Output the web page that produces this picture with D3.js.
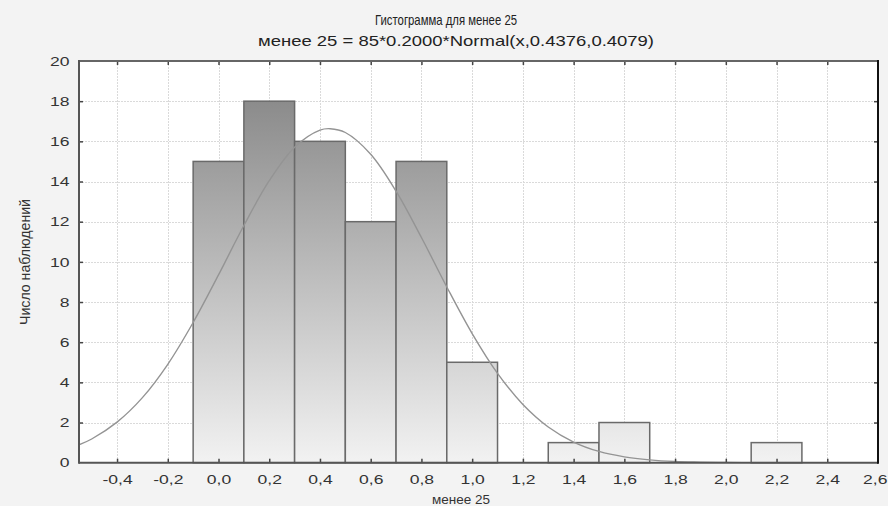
<!DOCTYPE html>
<html>
<head>
<meta charset="utf-8">
<script src="https://cdn.jsdelivr.net/npm/d3@7"></script>
<style>
  html, body { margin: 0; padding: 0; background: #f3f3f3; }
  svg { display: block; font-family: "Liberation Sans", Arial, sans-serif; }
</style>
</head>
<body>
<svg id="chart" width="888" height="506"></svg>
<script>
// ---- data ----
const titleLines = ["Гистограмма для менее 25", "менее 25 = 85*0.2000*Normal(x,0.4376,0.4079)"];
const xLabel = "менее 25";
const yLabel = "Число наблюдений";
const binLo  = [-0.1, 0.1, 0.3, 0.5, 0.7, 0.9, 1.1, 1.3, 1.5, 1.7, 1.9, 2.1];
const binHi  = [ 0.1, 0.3, 0.5, 0.7, 0.9, 1.1, 1.3, 1.5, 1.7, 1.9, 2.1, 2.3];
const counts = [15, 18, 16, 12, 15, 5, 0, 1, 2, 0, 0, 1];
const curveX = [-0.55, -0.5, -0.4, -0.3, -0.2, -0.1, 0.0, 0.1, 0.2, 0.3, 0.4, 0.44, 0.5, 0.6, 0.7, 0.8, 0.9, 1.0, 1.1, 1.2, 1.3, 1.4, 1.5, 1.6, 1.7, 1.8, 1.9, 2.0, 2.1, 2.2, 2.4, 2.6];
const curveY = [0.89, 1.18, 2.02, 3.24, 4.90, 6.98, 9.35, 11.81, 14.04, 15.71, 16.56, 16.63, 16.44, 15.36, 13.52, 11.21, 8.75, 6.43, 4.45, 2.90, 1.78, 1.03, 0.56, 0.29, 0.14, 0.06, 0.03, 0.01, 0.004, 0.001, 0, 0];
const xTicks = [-0.4, -0.2, 0.0, 0.2, 0.4, 0.6, 0.8, 1.0, 1.2, 1.4, 1.6, 1.8, 2.0, 2.2, 2.4, 2.6];
const yTicks = [0, 2, 4, 6, 8, 10, 12, 14, 16, 18, 20];
const xDomain = [-0.55, 2.6];
const yDomain = [0, 20];

// ---- layout ----
const svg = d3.select("#chart");
const L = 79, R = 878, T = 61, B = 462.7;
const x = d3.scaleLinear().domain(xDomain).range([L, R]);
const y = d3.scaleLinear().domain(yDomain).range([B, T]);
const fmtX = d => (d < 0 ? "-" : "") + Math.abs(d).toFixed(1).replace(".", ",");

// background of plot
svg.append("rect").attr("x", L).attr("y", T).attr("width", R - L).attr("height", B - T).attr("fill", "#ffffff");

// gradient
const defs = svg.append("defs");
const grad = defs.append("linearGradient").attr("id", "barGrad")
  .attr("gradientUnits", "userSpaceOnUse")
  .attr("x1", 0).attr("x2", 0).attr("y1", y(20)).attr("y2", y(0));
grad.append("stop").attr("offset", "0%").attr("stop-color", "#808080");
grad.append("stop").attr("offset", "100%").attr("stop-color", "#f2f2f2");
defs.append("clipPath").attr("id", "plotClip").append("rect")
  .attr("x", L).attr("y", T).attr("width", R - L).attr("height", B - T);

// grid
const grid = svg.append("g").attr("stroke", "#dadada").attr("stroke-width", 1).attr("stroke-dasharray", "2,1");
grid.selectAll("line.v").data(xTicks.filter(d => d < 2.6)).join("line")
  .attr("x1", d => Math.round(x(d)) + 0.5).attr("x2", d => Math.round(x(d)) + 0.5)
  .attr("y1", T).attr("y2", B);
grid.selectAll("line.h").data(yTicks.filter(d => d > 0 && d < 20)).join("line")
  .attr("x1", L).attr("x2", R)
  .attr("y1", d => Math.round(y(d)) + 0.5).attr("y2", d => Math.round(y(d)) + 0.5);

// bars
const bars = binLo.map((lo, i) => ({ lo, hi: binHi[i], c: counts[i] })).filter(d => d.c > 0);
svg.append("g").selectAll("rect").data(bars).join("rect")
  .attr("x", d => x(d.lo)).attr("width", d => x(d.hi) - x(d.lo))
  .attr("y", d => y(d.c)).attr("height", d => y(0) - y(d.c))
  .attr("fill", "url(#barGrad)").attr("stroke", "#6a6a6a").attr("stroke-width", 1.5);

// normal curve
const line = d3.line().x((d, i) => x(curveX[i])).y(d => y(d)).curve(d3.curveCatmullRom);
svg.append("path").datum(curveY).attr("d", line)
  .attr("clip-path", "url(#plotClip)")
  .attr("fill", "none").attr("stroke", "#949494").attr("stroke-width", 1.4);

// axes (ticks inward)
const tickStyle = g => {
  g.select(".domain").remove();
  g.selectAll(".tick line").attr("stroke", "#444").attr("stroke-width", 1.5);
  g.selectAll(".tick text").attr("fill", "#333").style("font-size", "13px");
};
const xAxis = svg.append("g").attr("transform", `translate(0,${B})`)
  .call(d3.axisBottom(x).tickValues(xTicks).tickFormat(fmtX).tickSizeInner(-4).tickSizeOuter(0).tickPadding(12))
  .call(tickStyle);
xAxis.selectAll(".tick text").attr("transform", "scale(1.35,1)");
xAxis.selectAll(".tick").filter(d => d >= 2.6).select("text")
  .attr("text-anchor", "end").attr("x", (887 - R) / 1.35);
xAxis.selectAll(".tick line").filter(d => d >= 2.6).remove();

svg.append("g").attr("transform", `translate(0,${T})`)
  .call(d3.axisTop(x).tickValues(xTicks.filter(d => d < 2.6)).tickFormat("").tickSizeInner(-4).tickSizeOuter(0))
  .call(tickStyle);

const yAxis = svg.append("g").attr("transform", `translate(${L},0)`)
  .call(d3.axisLeft(y).tickValues(yTicks).tickSizeInner(-4).tickSizeOuter(0).tickPadding(0))
  .call(tickStyle);
yAxis.selectAll(".tick text").attr("x", -7).attr("transform", "scale(1.35,1)");
yAxis.selectAll(".tick line").filter(d => d === 0 || d === 20).remove();

svg.append("g").attr("transform", `translate(${R},0)`)
  .call(d3.axisRight(y).tickValues(yTicks.filter(d => d > 0 && d < 20)).tickFormat("").tickSizeInner(-4).tickSizeOuter(0))
  .call(tickStyle);

// frame
const frame = svg.append("g").attr("fill", "none");
frame.append("line").attr("x1", L).attr("x2", R).attr("y1", T).attr("y2", T).attr("stroke", "#666").attr("stroke-width", 2);
frame.append("line").attr("x1", L).attr("x2", R).attr("y1", B).attr("y2", B).attr("stroke", "#555").attr("stroke-width", 2);
frame.append("line").attr("x1", L).attr("x2", L).attr("y1", T - 1).attr("y2", B + 1).attr("stroke", "#555").attr("stroke-width", 2);
frame.append("line").attr("x1", R).attr("x2", R).attr("y1", T - 1).attr("y2", B + 1).attr("stroke", "#111").attr("stroke-width", 2);

// titles
svg.append("text").attr("x", 446).attr("y", 25).attr("text-anchor", "middle")
  .attr("fill", "#222").style("font-size", "15px")
  .attr("textLength", 142).attr("lengthAdjust", "spacingAndGlyphs").text(titleLines[0]);
svg.append("text").attr("x", 456).attr("y", 46).attr("text-anchor", "middle")
  .attr("fill", "#222").style("font-size", "15px")
  .attr("textLength", 396).attr("lengthAdjust", "spacingAndGlyphs").text(titleLines[1]);

// axis labels
svg.append("text").attr("x", 461).attr("y", 504).attr("text-anchor", "middle")
  .attr("fill", "#333").style("font-size", "13px")
  .attr("textLength", 58).attr("lengthAdjust", "spacingAndGlyphs").text(xLabel);
svg.append("text").attr("transform", "translate(30,262) rotate(-90)").attr("text-anchor", "middle")
  .attr("fill", "#333").style("font-size", "14px")
  .attr("textLength", 126).attr("lengthAdjust", "spacingAndGlyphs").text(yLabel);
</script>
</body>
</html>
